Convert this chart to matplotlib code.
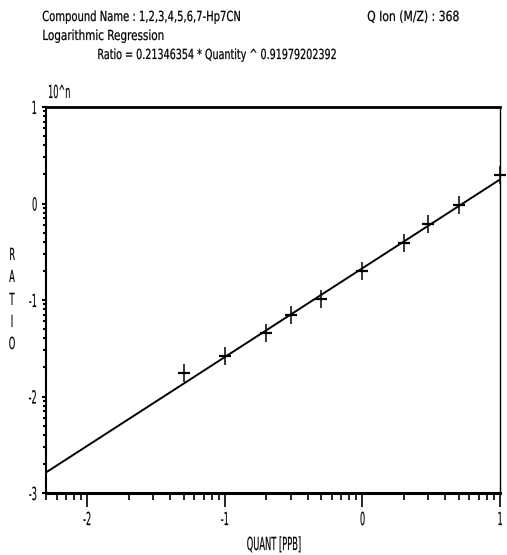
import numpy as np
import matplotlib
matplotlib.use("Agg")
import matplotlib.pyplot as plt
from matplotlib.ticker import LogLocator, FuncFormatter, NullFormatter, FixedLocator
from matplotlib.patheffects import AbstractPathEffect
from matplotlib.transforms import Affine2D

# ---- data ----
quantity = [0.05, 0.1, 0.2, 0.3, 0.5, 1, 2, 3, 5, 10]
ratio = [0.0174, 0.0263, 0.0458, 0.0693, 0.1016, 0.198, 0.387, 0.614, 0.964, 1.97]
coef_a = 0.21346354
coef_b = 0.91979202392
quant_range = [0.005, 10]
ratio_range = [0.001, 10]
x_tick_exps = [-2, -1, 0, 1]
y_tick_exps = [-3, -2, -1, 0, 1]
header_lines = ["Compound Name : 1,2,3,4,5,6,7-Hp7CN",
                "Logarithmic Regression",
                "Ratio = 0.21346354 * Quantity ^ 0.91979202392"]
qion_text = "Q Ion (M/Z) : 368"
unit_text = "10^n"
ylabel_text = "RATIO"
xlabel_text = "QUANT [PPB]"

plt.rcParams['font.family'] = ['DejaVu Sans']


class Squeeze(AbstractPathEffect):
    """Narrow (and slightly embolden) text to mimic the reference's narrow bitmap font."""
    def __init__(self, sx, anchor='left', stroke=0.15):
        super().__init__()
        self.sx = sx
        self.anchor = anchor
        self.stroke = stroke

    def draw_path(self, renderer, gc, tpath, affine, rgbFace=None):
        ext = tpath.get_extents()
        if self.anchor == 'left':
            cx = ext.x0
        elif self.anchor == 'right':
            cx = ext.x1
        else:
            cx = 0.5 * (ext.x0 + ext.x1)
        t = Affine2D().translate(-cx, 0).scale(self.sx, 1.0).translate(cx, 0)
        gc0 = renderer.new_gc()
        gc0.copy_properties(gc)
        gc0.set_snap(False)
        gc0.set_linewidth(self.stroke)
        if rgbFace is not None:
            gc0.set_foreground(rgbFace)
        renderer.draw_path(gc0, tpath, t + affine, rgbFace)
        gc0.restore()


W, H = 507, 555
fig = plt.figure(figsize=(W / 100, H / 100), dpi=100)
ax = fig.add_axes([46 / W, 1 - 493 / H, 454 / W, 386 / H])

ax.set_xscale('log')
ax.set_yscale('log')
ax.set_xlim(*quant_range)
ax.set_ylim(*ratio_range)

# regression line
lx = np.array(quant_range, dtype=float)
ly = coef_a * lx ** coef_b
ax.plot(lx, ly, color='black', lw=1.4, solid_capstyle='butt')

# points: asymmetric crosses
ax.plot(quantity, ratio, ls='none', marker='|', ms=13, mew=1.1, color='black', clip_on=False)
ax.plot(quantity, ratio, ls='none', marker='_', ms=8, mew=1.6, color='black', clip_on=False)

# spines
for side, lw in [('top', 2.0), ('bottom', 2.2), ('left', 1.5), ('right', 1.0)]:
    ax.spines[side].set_linewidth(lw)
    ax.spines[side].set_color('black')

fmt = FuncFormatter(lambda v, p: "%d" % int(round(np.log10(v))))
ax.xaxis.set_major_locator(FixedLocator([10.0 ** e for e in x_tick_exps]))
ax.yaxis.set_major_locator(FixedLocator([10.0 ** e for e in y_tick_exps]))
ax.xaxis.set_major_formatter(fmt)
ax.yaxis.set_major_formatter(fmt)
ax.xaxis.set_minor_locator(LogLocator(base=10, subs=np.arange(2, 10), numticks=20))
ax.yaxis.set_minor_locator(LogLocator(base=10, subs=np.arange(2, 10), numticks=20))
ax.xaxis.set_minor_formatter(NullFormatter())
ax.yaxis.set_minor_formatter(NullFormatter())

ax.tick_params(axis='x', which='major', direction='out', length=10, width=1.2, pad=3, labelsize=13)
ax.tick_params(axis='x', which='minor', direction='out', length=5, width=1.2)
ax.tick_params(axis='y', which='major', direction='out', length=3, width=1.5, pad=3, labelsize=13)
ax.tick_params(axis='y', which='minor', direction='out', length=2.5, width=1.5)
ax.tick_params(top=False, right=False, which='both')

for lab in ax.get_xticklabels():
    lab.set_path_effects([Squeeze(0.45, 'center', 0.1)])
for lab in ax.get_yticklabels():
    lab.set_path_effects([Squeeze(0.45, 'right', 0.1)])

# header text
hfs = 10
header_x = [42, 42, 97]
header_base = [21, 40, 59]
header_sx = [0.72, 0.75, 0.69]
for txt, x, y, sx in zip(header_lines, header_x, header_base, header_sx):
    fig.text(x / W, 1 - y / H, txt, fontsize=hfs, va='baseline', ha='left',
             path_effects=[Squeeze(sx, 'left')])
fig.text(367 / W, 1 - 21 / H, qion_text, fontsize=hfs, va='baseline', ha='left',
         path_effects=[Squeeze(0.78, 'left')])

fig.text(47 / W, 1 - 98 / H, unit_text, fontsize=13, va='baseline', ha='left',
         path_effects=[Squeeze(0.45, 'left', 0.1)])

# axis labels
ylab_y = [255, 277, 300, 322, 344]
for ch, y in zip(ylabel_text, ylab_y):
    fig.text(12 / W, 1 - y / H, ch, fontsize=12, va='center', ha='center',
             path_effects=[Squeeze(0.5, 'center', 0.1)])
fig.text(274 / W, 1 - 545 / H, xlabel_text, fontsize=13, va='center', ha='center',
         path_effects=[Squeeze(0.46, 'center', 0.1)])

fig.savefig("out.png", dpi=100, facecolor='white')
